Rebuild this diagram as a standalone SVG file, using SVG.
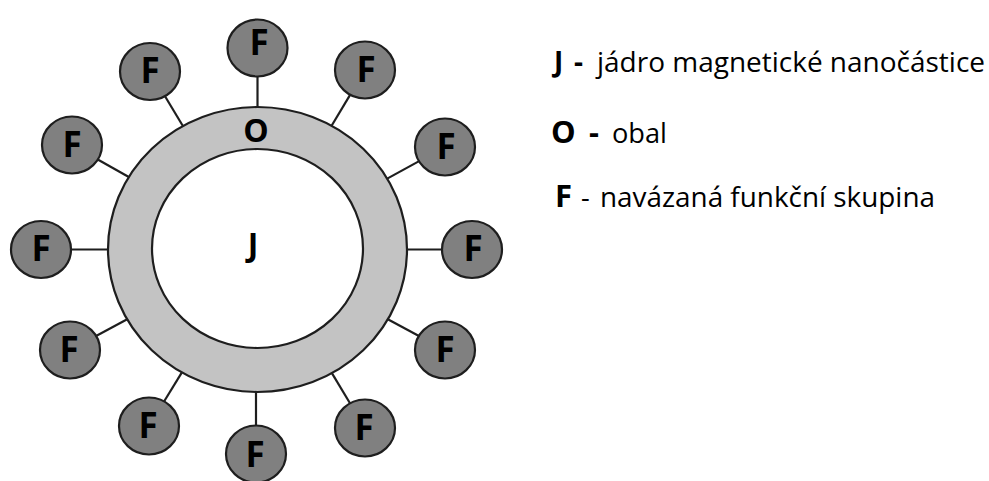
<svg xmlns="http://www.w3.org/2000/svg" width="989" height="481" viewBox="0 0 989 481">
  <style>
    .link { stroke: #1e1e1e; stroke-width: 2.2; fill: none; }
    .fnode { fill: #808080; stroke: #1e1e1e; stroke-width: 2.2; }
    .flabel { font-family: "Open Sans", "Noto Sans", sans-serif; font-weight: bold; font-size: 35px; fill: #000; text-anchor: middle; }
    .core-label { font-family: "Open Sans", "Noto Sans", sans-serif; font-weight: bold; font-size: 32px; fill: #000; text-anchor: middle; }
    .key { font-family: "Open Sans", "Noto Sans", sans-serif; font-weight: bold; fill: #000; }
    .desc { font-family: "Open Sans", "Noto Sans", sans-serif; font-size: 27px; fill: #000; }
  </style>

  <!-- bonds between shell and functional groups -->
  <g id="connectors">
    <line class="link" x1="257.5" y1="76.5" x2="257.5" y2="107"/>
    <line class="link" x1="165" y1="96.3" x2="182.9" y2="126"/>
    <line class="link" x1="350.1" y1="94.9" x2="331.6" y2="125.8"/>
    <line class="link" x1="97.3" y1="159.2" x2="128.8" y2="177"/>
    <line class="link" x1="419.6" y1="160.9" x2="387.2" y2="178.6"/>
    <line class="link" x1="70.5" y1="249.5" x2="108" y2="249.5"/>
    <line class="link" x1="407" y1="249.5" x2="442.5" y2="249.5"/>
    <line class="link" x1="95.6" y1="336.3" x2="127.2" y2="319.3"/>
    <line class="link" x1="419.4" y1="336.3" x2="387.8" y2="319.3"/>
    <line class="link" x1="164.2" y1="401.3" x2="181.9" y2="372.4"/>
    <line class="link" x1="350" y1="403.2" x2="331.9" y2="373.1"/>
    <line class="link" x1="256" y1="392" x2="256" y2="426"/>
  </g>

  <!-- shell (O) -->
  <g id="shell">
    <ellipse cx="257.5" cy="249.5" rx="149.5" ry="142.5" fill="#c3c3c3" stroke="#1e1e1e" stroke-width="2.2"/>
    <text class="core-label" x="256" y="142">O</text>
  </g>

  <!-- magnetic core (J) -->
  <g id="core">
    <ellipse cx="257.5" cy="248.5" rx="105.5" ry="99.5" fill="#ffffff" stroke="#1e1e1e" stroke-width="2.2"/>
    <text class="core-label" x="253" y="256">J</text>
  </g>

  <!-- functional groups (F) -->
  <g id="f1"><ellipse class="fnode" cx="257.5" cy="48" rx="30" ry="28.5"/><text class="flabel" x="259" y="55">F</text></g>
  <g id="f2"><ellipse class="fnode" cx="150" cy="71.5" rx="30" ry="28.5"/><text class="flabel" x="150" y="83">F</text></g>
  <g id="f3"><ellipse class="fnode" cx="365" cy="70" rx="30" ry="28.5"/><text class="flabel" x="366" y="82">F</text></g>
  <g id="f4"><ellipse class="fnode" cx="72" cy="145" rx="30" ry="28.5"/><text class="flabel" x="72" y="157">F</text></g>
  <g id="f5"><ellipse class="fnode" cx="445" cy="147" rx="30" ry="28.5"/><text class="flabel" x="446" y="159">F</text></g>
  <g id="f6"><ellipse class="fnode" cx="41" cy="249.5" rx="30" ry="28.5"/><text class="flabel" x="41" y="261">F</text></g>
  <g id="f7"><ellipse class="fnode" cx="472" cy="249.5" rx="30" ry="28.5"/><text class="flabel" x="473" y="261">F</text></g>
  <g id="f8"><ellipse class="fnode" cx="70" cy="350" rx="30" ry="28.5"/><text class="flabel" x="69" y="362">F</text></g>
  <g id="f9"><ellipse class="fnode" cx="445" cy="350" rx="30" ry="28.5"/><text class="flabel" x="445" y="362">F</text></g>
  <g id="f10"><ellipse class="fnode" cx="149" cy="426" rx="30" ry="28.5"/><text class="flabel" x="148" y="438">F</text></g>
  <g id="f11"><ellipse class="fnode" cx="365" cy="428" rx="30" ry="28.5"/><text class="flabel" x="364" y="440">F</text></g>
  <g id="f12"><ellipse class="fnode" cx="256" cy="454" rx="30" ry="28.5"/><text class="flabel" x="255" y="467">F</text></g>

  <!-- legend -->
  <g id="legend">
    <text class="key" x="554" y="72" font-size="28">J</text>
    <text class="key" x="574" y="72" font-size="28">-</text>
    <text class="desc" x="597" y="72" textLength="388" lengthAdjust="spacingAndGlyphs">jádro magnetické nanočástice</text>

    <text class="key" x="551" y="143" font-size="31">O</text>
    <text class="key" x="589" y="143" font-size="31">-</text>
    <text class="desc" x="612" y="143" textLength="55" lengthAdjust="spacingAndGlyphs">obal</text>

    <text class="key" x="555" y="207" font-size="31">F</text>
    <text class="desc" x="581" y="207">-</text>
    <text class="desc" x="600" y="207" textLength="335" lengthAdjust="spacingAndGlyphs">navázaná funkční skupina</text>
  </g>
</svg>
